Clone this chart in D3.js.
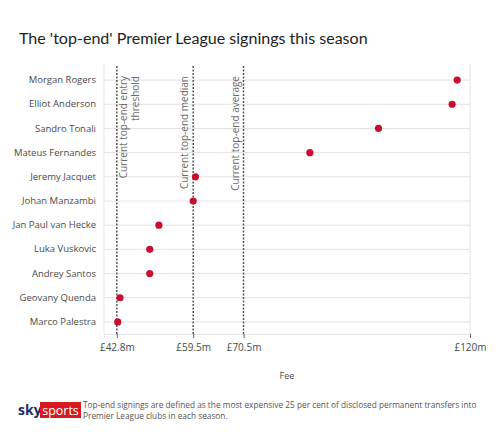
<!DOCTYPE html>
<html>
<head>
<meta charset="utf-8">
<script src="https://cdn.jsdelivr.net/npm/d3@7"></script>
<style>
  body { margin: 0; background: #fff; }
  svg { font-family: "Open Sans", sans-serif; }
</style>
</head>
<body>
<script>
const players = ['Morgan Rogers', 'Elliot Anderson', 'Sandro Tonali', 'Mateus Fernandes', 'Jeremy Jacquet',
  'Johan Manzambi', 'Jan Paul van Hecke', 'Luka Vuskovic', 'Andrey Santos', 'Geovany Quenda', 'Marco Palestra'];
const fees = [117.2, 116.1, 100, 85, 60, 59.5, 52, 50, 50, 43.5, 43];

const refValues = [42.8, 59.5, 70.5];
const refLabels = [['Current top-end entry', 'threshold'], ['Current top-end median'], ['Current top-end average']];
const tickValues = [42.8, 59.5, 70.5, 120];
const tickLabels = ['£42.8m', '£59.5m', '£70.5m', '£120m'];

const svgWidth = 500;
const svgHeight = 440;
const margin = { top: 68, right: 30, bottom: 106, left: 104 };
const width = svgWidth - margin.left - margin.right;
const height = svgHeight - margin.top - margin.bottom;

const root = d3.select('body').append('svg')
  .attr('width', svgWidth)
  .attr('height', svgHeight);

const title = root.append('text')
  .attr('x', 19)
  .attr('y', 44)
  .attr('font-family', 'Lato, sans-serif')
  .attr('font-size', 17)
  .attr('fill', '#222')
  .text("The 'top-end' Premier League signings this season");
// shrink the title to the width it has in the original
const tw = title.node().getComputedTextLength();
if (tw > 349) title.attr('font-size', 17 * 349 / tw);

const svg = root.append('g')
  .attr('transform', `translate(${margin.left}, ${margin.top})`);

const x = d3.scaleLinear()
  .domain([40, 120])
  .range([0, width]);

const y = d3.scaleBand()
  .domain(players)
  .range([0, height]);

// grid frame
svg.append('line')
  .attr('x1', 0).attr('x2', 0).attr('y1', -4).attr('y2', height)
  .attr('stroke', '#e6e6e6');
svg.append('line')
  .attr('x1', width).attr('x2', width).attr('y1', -4).attr('y2', height)
  .attr('stroke', '#e6e6e6');

svg.selectAll('.grid')
  .data(players)
  .enter()
  .append('line')
  .attr('class', 'grid')
  .attr('x1', 0)
  .attr('x2', width)
  .attr('y1', d => y(d) + y.bandwidth() / 2)
  .attr('y2', d => y(d) + y.bandwidth() / 2)
  .attr('stroke', '#e3e3e3');

// x-axis
const xAxis = svg.append('g')
  .attr('transform', `translate(0, ${height})`)
  .call(d3.axisBottom(x).tickValues(tickValues).tickFormat((d, i) => tickLabels[i]).tickSize(4).tickPadding(6));
xAxis.select('.domain').attr('stroke', '#e6e6e6');
xAxis.selectAll('.tick line').attr('stroke', '#666');
xAxis.selectAll('.tick text')
  .attr('font-family', '"Open Sans", sans-serif')
  .attr('font-size', 10)
  .attr('fill', '#4a4a4a');

// y labels
const yAxis = svg.append('g')
  .call(d3.axisLeft(y).tickSize(0).tickPadding(8));
yAxis.select('.domain').remove();
yAxis.selectAll('.tick text')
  .attr('font-family', '"Open Sans", sans-serif')
  .attr('font-size', 9.5)
  .attr('fill', '#4a4a4a');

// reference lines
svg.selectAll('.ref')
  .data(refValues)
  .enter()
  .append('line')
  .attr('class', 'ref')
  .attr('x1', d => x(d))
  .attr('x2', d => x(d))
  .attr('y1', -2)
  .attr('y2', height)
  .attr('stroke', '#555')
  .attr('stroke-width', 1.5)
  .attr('stroke-dasharray', '2,1.5');

refValues.forEach((v, i) => {
  const lines = refLabels[i];
  const t = svg.append('text')
    .attr('transform', `translate(${i === 0 ? x(v) + 10 : x(v) - 5}, 8) rotate(-90)`)
    .attr('text-anchor', 'end')
    .attr('font-size', 10)
    .attr('fill', '#6a6a6a');
  lines.forEach((l, j) => {
    t.append('tspan')
      .attr('x', 0)
      .attr('dy', j === 0 ? 0 : 12)
      .text(l);
  });
});

// dots
svg.selectAll('.dot')
  .data(fees)
  .enter()
  .append('circle')
  .attr('class', 'dot')
  .attr('cx', d => x(d))
  .attr('cy', (d, i) => y(players[i]) + y.bandwidth() / 2)
  .attr('r', 3.6)
  .attr('fill', '#c8102e');

// axis title
svg.append('text')
  .attr('x', width / 2)
  .attr('y', height + 45)
  .attr('text-anchor', 'middle')
  .attr('font-size', 9)
  .attr('fill', '#4a4a4a')
  .text('Fee');

// footer logo
const logo = root.append('g').attr('transform', 'translate(18, 402)');
logo.append('text')
  .attr('x', 0)
  .attr('y', 13)
  .attr('font-size', 14)
  .attr('font-weight', 'bold')
  .attr('fill', '#1c2d6b')
  .text('sky');
logo.append('rect')
  .attr('x', 22)
  .attr('y', 0)
  .attr('width', 41)
  .attr('height', 16)
  .attr('fill', '#d71920');
logo.append('text')
  .attr('x', 42.5)
  .attr('y', 12.5)
  .attr('text-anchor', 'middle')
  .attr('font-size', 12.5)
  .attr('fill', '#fff')
  .text('sports');

const note = root.append('text')
  .attr('x', 83)
  .attr('y', 408)
  .attr('font-size', 8.3)
  .attr('fill', '#555');
note.append('tspan').attr('x', 83).text('Top-end signings are defined as the most expensive 25 per cent of disclosed permanent transfers into');
note.append('tspan').attr('x', 83).attr('dy', 11).text('Premier League clubs in each season.');
</script>
</body>
</html>
